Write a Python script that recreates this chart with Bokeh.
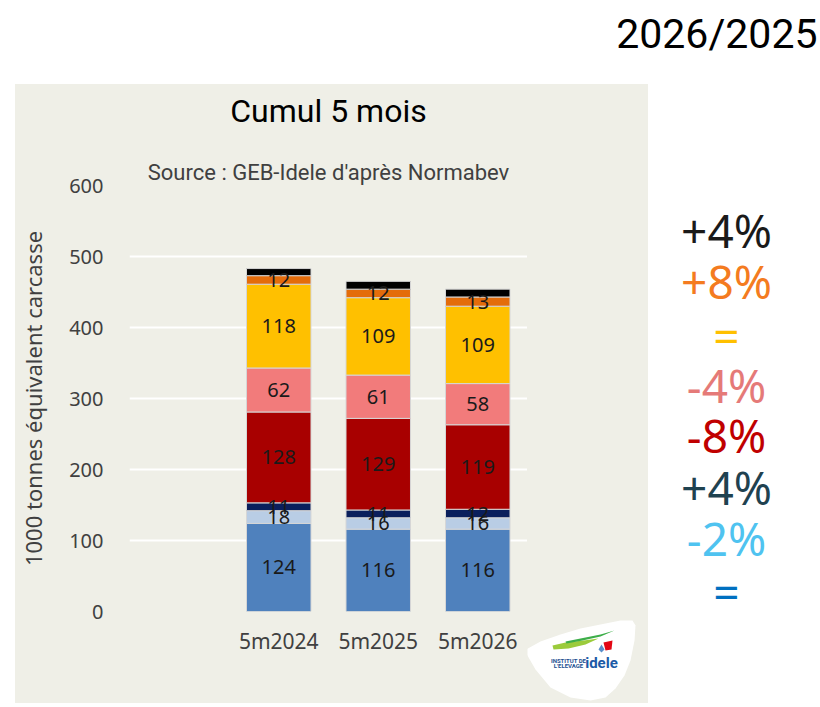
from bokeh.plotting import figure
from bokeh.models import (ColumnDataSource, FactorRange, Range1d, FixedTicker, Spacer, Title)
from bokeh.layouts import column, row
from bokeh.core.properties import value
from bokeh.embed import file_html
from bokeh.resources import INLINE

# ---------------- data ----------------
periods = ["5m2024", "5m2025", "5m2026"]
seg_blue = [124, 116, 116]
seg_lightblue = [18, 16, 16]
seg_navy = [11, 11, 12]
seg_darkred = [128, 129, 119]
seg_salmon = [62, 61, 58]
seg_yellow = [118, 109, 109]
seg_orange = [12, 12, 13]
seg_black = [10, 11, 11]
y_ticks = [0, 100, 200, 300, 400, 500, 600]

pct_labels = ["+4%", "+8%", "=", "-4%", "-8%", "+4%", "-2%", "="]
pct_colors = ["#1a1a1a", "#F47B20", "#FFC000", "#E57A78", "#C00000",
              "#1F4250", "#4FC3F0", "#0070C0"]

keys = ["blue", "lightblue", "navy", "darkred", "salmon", "yellow", "orange", "black"]
colors = ["#4F81BD", "#B9CDE5", "#0A1F5C", "#A80000", "#F27B7B", "#FFC000", "#E46C0A", "#000000"]
labelled = [True, True, True, True, True, True, True, False]

BEIGE = "#EFEFE7"
TXT = "#404040"
FONT = "Noto Sans"
HEAD = "Roboto"

# ---------------- top band (page coordinates) ----------------
top = figure(width=820, height=84, output_backend="svg", toolbar_location=None,
             x_axis_type=None, y_axis_type=None, min_border=0,
             x_range=Range1d(0, 820), y_range=Range1d(84, 0),
             outline_line_color=None, background_fill_color="white", border_fill_color="white")
top.text(x=[817], y=[33], text=["2026/2025"], text_align="right", text_baseline="middle",
         text_font=value(HEAD), text_font_size="41px", text_color="#000000")

# ---------------- main chart ----------------
p = figure(x_range=FactorRange(factors=[" "] + periods), y_range=Range1d(0, 600),
           width=512, height=619, output_backend="svg", toolbar_location=None, title=None,
           min_border_left=111, min_border_right=0, min_border_top=101, min_border_bottom=92,
           background_fill_color=BEIGE, border_fill_color=BEIGE, outline_line_color=None)

data = dict(period=periods, blue=seg_blue, lightblue=seg_lightblue, navy=seg_navy,
            darkred=seg_darkred, salmon=seg_salmon, yellow=seg_yellow,
            orange=seg_orange, black=seg_black)
src = ColumnDataSource(data)
p.vbar_stack(keys, x="period", width=0.648, fill_color=colors, line_color="#D6D6D6",
             line_width=1, source=src)

# segment labels
lx, ly, lt = [], [], []
for i, per in enumerate(periods):
    base = 0
    for k, show in zip(keys, labelled):
        v = data[k][i]
        if show:
            lx.append(per)
            ly.append(base + v / 2)
            lt.append(str(v))
        base += v
p.text(x=lx, y=ly, text=lt, text_align="center", text_baseline="middle",
       text_font=value(FONT), text_font_size="20px", text_color="#1a1a1a")

p.xgrid.visible = False
p.ygrid.grid_line_color = "white"
p.ygrid.grid_line_width = 2
p.yaxis.ticker = FixedTicker(ticks=y_ticks)
for ax in (p.xaxis[0], p.yaxis[0]):
    ax.axis_line_color = None
    ax.major_tick_line_color = None
    ax.minor_tick_line_color = None
    ax.major_label_text_font = FONT
    ax.major_label_text_color = TXT
p.yaxis.major_label_text_font_size = "20px"
p.xaxis.major_label_text_font_size = "21px"
p.yaxis.major_label_standoff = 20
p.xaxis.major_label_standoff = 9
p.yaxis.axis_label = "1000 tonnes équivalent carcasse"
p.yaxis.axis_label_text_font = FONT
p.yaxis.axis_label_text_font_style = "normal"
p.yaxis.axis_label_text_font_size = "22px"
p.yaxis.axis_label_text_color = TXT
p.yaxis.axis_label_standoff = 18

# titles stacked outward from the frame: subtitle, gap, title
p.add_layout(Title(text="Source : GEB-Idele d'après Normabev", align="center",
                   text_font=HEAD, text_font_size="22px", text_font_style="normal",
                   text_color=TXT, standoff=2), "above")
p.add_layout(Title(text=" ", align="center", text_font=HEAD, text_font_size="22px",
                   text_color=BEIGE, standoff=0), "above")
p.add_layout(Title(text="Cumul 5 mois", align="center",
                   text_font=HEAD, text_font_size="32px", text_font_style="normal",
                   text_color="#000000", standoff=0), "above")

# ---------------- logo strip (page coordinates) ----------------
lg = figure(width=121, height=619, output_backend="svg", toolbar_location=None,
            x_axis_type=None, y_axis_type=None, min_border=0,
            x_range=Range1d(527, 648), y_range=Range1d(703, 84),
            outline_line_color=None, background_fill_color=BEIGE, border_fill_color=BEIGE)
lg.patch([524, 540, 560, 580, 600, 620, 632, 635, 634, 630, 624, 615, 605, 590, 570, 550, 535],
         [650, 641, 634, 628, 624, 620, 620, 625, 640, 660, 675, 688, 697, 700, 697, 687, 669],
         fill_color="white", line_color=None)
lg.patch([552, 565, 583, 598, 585, 568, 553], [645, 642, 640, 638, 644, 648, 649],
         fill_color="#9BCB3B", line_color=None)
lg.patch([565, 585, 600, 614, 600, 582, 566], [641, 637, 634, 630, 636, 640, 643],
         fill_color="#3DAE49", line_color=None)
lg.patch([603, 612, 611, 605], [642, 640, 649, 650], fill_color="#E30613", line_color=None)
lg.patch([598, 601, 604, 601], [649, 644, 649, 652], fill_color="#5B8FC9", line_color=None)
lg.text(x=[568, 568], y=[660, 665], text=["INSTITUT DE", "L'ELEVAGE"], text_align="center",
        text_baseline="middle", text_font=value(HEAD), text_font_size="6px",
        text_font_style="bold", text_color="#1D4F91")
lg.text(x=[601], y=[662], text=["idele"], text_align="center", text_baseline="middle",
        text_font=value(HEAD), text_font_size="15px", text_font_style="bold",
        text_color="#1B5AA6")

# ---------------- right column ----------------
rt = figure(width=172, height=619, output_backend="svg", toolbar_location=None,
            x_axis_type=None, y_axis_type=None,
            min_border_left=0, min_border_right=0, min_border_top=101, min_border_bottom=92,
            x_range=Range1d(648, 820), y_range=Range1d(611, 185),
            outline_line_color=None, background_fill_color="white", border_fill_color="white")
pct_y_page = [229, 280, 334, 384, 434, 486, 537, 590]
rt.text(x=[726] * len(pct_labels), y=pct_y_page, text=pct_labels, text_color=pct_colors,
        text_align="center", text_baseline="middle",
        text_font=value(FONT), text_font_size="46px")

panel = row(p, column(lg), styles={"background-color": BEIGE})
layout = column(top, row(Spacer(width=15, height=619), panel, rt),
                Spacer(width=820, height=4))

open("out.html", "w").write(file_html(layout, INLINE))
